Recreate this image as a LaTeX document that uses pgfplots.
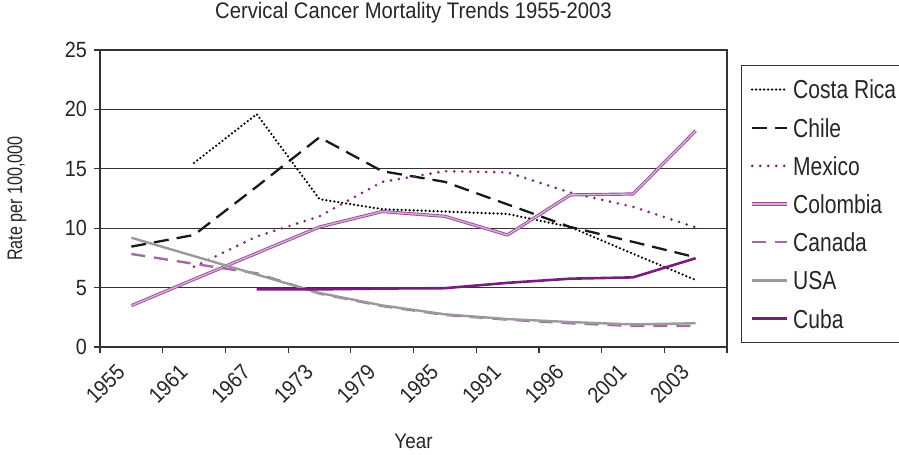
\documentclass[border=0pt]{standalone}
\usepackage{fontspec}
\setmainfont{Liberation Sans}[FakeStretch=0.9]
\newfontfamily\legfont{Liberation Sans}[FakeStretch=0.81]
\newfontfamily\ylabfont{Liberation Sans}[FakeStretch=0.77]
\usepackage{pgfplots}
\pgfplotsset{compat=1.18}
\definecolor{mexpurple}{HTML}{7E2382}
\definecolor{colout}{HTML}{9A4A9D}
\definecolor{colin}{HTML}{D7B0D8}
\definecolor{canpurple}{HTML}{A866AB}
\definecolor{usagray}{HTML}{9A9A9A}
\definecolor{cubapurple}{HTML}{7A1C7D}
\definecolor{gridc}{HTML}{333333}
\begin{document}
\begin{tikzpicture}
\begin{axis}[name=ax, scale only axis, width=313.5pt, height=148.5pt,
  xmin=-0.5, xmax=9.5, ymin=0, ymax=25,
  xtick={-0.5,0.5,...,9.5}, x tick label as interval,
  xticklabels={1955,1961,1967,1973,1979,1985,1991,1996,2001,2003},
  ytick={0,5,...,25},
  ymajorgrids, grid style={gridc, line width=0.6pt},
  axis line style={gridc, line width=0.7pt},
  tick style={gridc, line width=0.6pt},
  tick align=outside, xtick pos=bottom, ytick pos=left,
  major tick length=3pt,
  /pgf/number format/assume math mode=true,
  tick label style={font=\fontsize{11}{13}\selectfont, text=black!85},
  x tick label style={xshift=-8pt, rotate=45, anchor=north east},
  title={Cervical Cancer Mortality Trends 1955-2003},
  title style={at={(axis description cs:0.5,1.0673)}, anchor=base, font=\fontsize{11.25}{13}\selectfont, text=black!85},
  xlabel={Year},
  xlabel style={at={(axis description cs:0.5,-0.3434)}, anchor=base, font=\fontsize{10.5}{12}\selectfont, text=black!85},
  ylabel={Rate per 100,000},
  ylabel style={at={(axis description cs:-0.1324,0.5)}, anchor=center, font=\ylabfont\fontsize{10.5}{12}\selectfont, text=black!85},
  legend cell align=left,
  legend image code/.code={\draw[#1] (0pt,0pt) -- (17.5pt,0pt);},
  legend style={at={(1,1)}, anchor=north west, xshift=7pt, yshift=-7.5pt,
    draw=gridc, line width=0.6pt, font=\legfont\fontsize{13}{15}\selectfont,
    inner xsep=4.5pt, inner ysep=4.25pt, row sep=3.7pt, column sep=2.2pt,
    nodes={inner sep=0pt, text height=12.4pt, text depth=3pt, anchor=west, text=black!85}},
]
\addplot[black, line width=1.25pt, line cap=round, dash pattern=on 0pt off 2pt] coordinates {
 (1,15.5) (2,19.6) (3,12.45) (4,11.6) (5,11.4) (6,11.2) (7,10.1) (8,7.85) (9,5.64)};
\addlegendentry{Costa Rica}
\addplot[black!90, line width=1.15pt, dash pattern=on 7.5pt off 4pt] coordinates {
 (0,8.45) (1,9.43) (2,13.5) (3,17.65) (4,14.8) (5,13.9) (6,12.0) (7,10.1) (8,8.85) (9,7.55)};
\addlegendentry{Chile}
\addplot[mexpurple, line width=1.45pt, line cap=round, dash pattern=on 0pt off 4pt] coordinates {
 (1,6.76) (2,9.3) (3,11.0) (4,13.9) (5,14.8) (6,14.7) (7,13.0) (8,11.8) (9,10.07)};
\addlegendentry{Mexico}
\addplot[draw=colout, double=colin, double distance=0.7pt, line width=0.45pt, line join=round] coordinates {
 (0,3.48) (1,5.7) (2,7.9) (3,10.1) (4,11.4) (5,11.0) (6,9.43) (7,12.8) (8,12.88) (9,18.2)};
\addlegendentry{Colombia}
\addplot[canpurple, line width=1.2pt, dash pattern=on 7pt off 4.5pt] coordinates {
 (0,7.83) (1,7.0) (2,6.2) (3,4.5) (4,3.45) (5,2.7) (6,2.3) (7,2.0) (8,1.77) (9,1.77)};
\addlegendentry{Canada}
\addplot[usagray, line width=1.2pt, line join=round] coordinates {
 (0,9.2) (1,7.65) (2,6.1) (3,4.55) (4,3.5) (5,2.75) (6,2.35) (7,2.1) (8,1.9) (9,2.0)};
\addlegendentry{USA}
\addplot[cubapurple, line width=1.3pt, line join=round] coordinates {
 (2,4.85) (3,4.85) (4,4.92) (5,4.95) (6,5.4) (7,5.75) (8,5.86) (9,7.47)};
\addlegendentry{Cuba}
\end{axis}
\pgfresetboundingbox
\path[use as bounding box] ([xshift=-50pt,yshift=-54pt]ax.south west) rectangle ([xshift=86pt,yshift=25pt]ax.north east);
\end{tikzpicture}
\end{document}
